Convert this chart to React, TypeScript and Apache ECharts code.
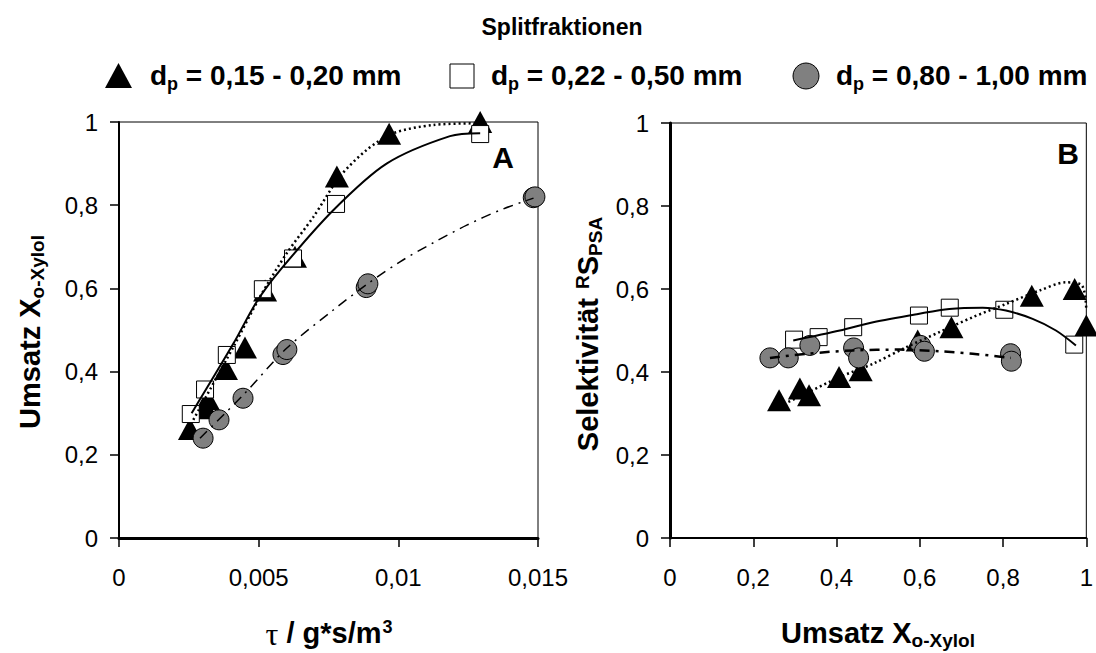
import React, { useEffect, useRef } from "react";
import * as echarts from "echarts";

// Splitfraktion d_p = 0,15 - 0,20 mm
const tauSmall = [0.00254, 0.00312, 0.00318, 0.00383, 0.00451, 0.00523, 0.0063, 0.0078, 0.00967, 0.01293];
const convSmall = [0.262, 0.312, 0.334, 0.406, 0.458, 0.595, 0.676, 0.869, 0.972, 1.0];
const selSmall = [0.332, 0.36, 0.344, 0.388, 0.404, 0.476, 0.508, 0.584, 0.6, 0.512];

// Splitfraktion d_p = 0,22 - 0,50 mm
const tauMed = [0.00257, 0.00308, 0.00386, 0.00515, 0.00623, 0.00777, 0.01293];
const convMed = [0.298, 0.357, 0.44, 0.598, 0.672, 0.803, 0.971];
const selMed = [0.478, 0.484, 0.508, 0.536, 0.555, 0.55, 0.466];

// Splitfraktion d_p = 0,80 - 1,00 mm
const tauCoarse = [0.00301, 0.00358, 0.00444, 0.00587, 0.00601, 0.00885, 0.00891, 0.01483, 0.01489];
const convCoarse = [0.24, 0.284, 0.336, 0.441, 0.453, 0.602, 0.611, 0.818, 0.82];
const selCoarse = [0.434, 0.434, 0.464, 0.458, 0.434, 0.464, 0.45, 0.444, 0.426];

// Trend curves, panel A (Umsatz over tau)
const trendA_smallX = [0.00266, 0.0041, 0.00505, 0.006, 0.00696, 0.00791, 0.00887, 0.00982, 0.01126, 0.01305];
const trendA_smallY = [0.284, 0.46, 0.58, 0.684, 0.772, 0.869, 0.933, 0.973, 0.993, 0.997];
const trendA_medX = [0.0026, 0.0041, 0.00493, 0.00582, 0.00767, 0.00958, 0.01185, 0.01293];
const trendA_medY = [0.3, 0.468, 0.568, 0.648, 0.788, 0.9, 0.966, 0.973];
const trendA_coarseX = [0.0029, 0.00445, 0.006, 0.00767, 0.00892, 0.01006, 0.01126, 0.01245, 0.01364, 0.01484];
const trendA_coarseY = [0.24, 0.344, 0.456, 0.548, 0.612, 0.664, 0.71, 0.752, 0.788, 0.817];

// Trend curves, panel B (Selektivität over Umsatz)
const trendB_smallX = [0.252, 0.326, 0.408, 0.488, 0.568, 0.647, 0.727, 0.807, 0.887, 0.951, 0.99, 1.0];
const trendB_smallY = [0.312, 0.348, 0.388, 0.42, 0.46, 0.496, 0.532, 0.564, 0.596, 0.616, 0.608, 0.548];
const trendB_medX = [0.296, 0.408, 0.488, 0.596, 0.671, 0.751, 0.807, 0.871, 0.927, 0.975];
const trendB_medY = [0.476, 0.5, 0.52, 0.54, 0.552, 0.555, 0.548, 0.528, 0.5, 0.464];
const trendB_coarseX = [0.24, 0.328, 0.44, 0.552, 0.647, 0.727, 0.819];
const trendB_coarseY = [0.434, 0.444, 0.452, 0.454, 0.45, 0.444, 0.434];

const legendLabels = ["0,15 - 0,20 mm", "0,22 - 0,50 mm", "0,80 - 1,00 mm"];

const FONT = "'Liberation Sans', Arial, Helvetica, sans-serif";
const SERIF = "'Liberation Serif', 'Times New Roman', serif";

const zip = (xs: number[], ys: number[]) => xs.map((x, i) => [x, ys[i]]);
const comma = (v: number) => (v === 0 ? "0" : String(+v.toFixed(4)).replace(".", ","));

const richMain = (size: number) => ({
  fontSize: size,
  fontWeight: "bold" as const,
  fontFamily: FONT,
  color: "#000",
  verticalAlign: "top" as const,
});
const richSub = (size: number, drop: number) => ({
  fontSize: size,
  fontWeight: "bold" as const,
  fontFamily: FONT,
  color: "#000",
  verticalAlign: "top" as const,
  padding: [drop, 0, 0, 0],
});
const richSup = (size: number) => ({
  fontSize: size,
  fontWeight: "bold" as const,
  fontFamily: FONT,
  color: "#000",
  verticalAlign: "top" as const,
  padding: [0, 0, 0, 1],
});

function titleText(x: number, y: number, text: string, rich: any, rotation = 0) {
  return {
    type: "text",
    x,
    y,
    rotation,
    style: {
      text,
      rich,
      align: "center",
      verticalAlign: "middle",
      textAlign: "center",
      textVerticalAlign: "middle",
      fill: "#000",
    },
  };
}

function legendText(x: number, label: string) {
  return {
    type: "text",
    x,
    y: 77,
    style: {
      text: `{b|d}{s|p}{b| = ${label}}`,
      rich: { b: richMain(28), s: richSub(18, 14) },
      align: "left",
      verticalAlign: "middle",
      textAlign: "left",
      textVerticalAlign: "middle",
      fill: "#000",
    },
  };
}

export default function App() {
  const ref = useRef<HTMLDivElement>(null);

  useEffect(() => {
    if (!ref.current) return;
    const chart = echarts.init(ref.current, undefined, { renderer: "svg" });

    const axisLabel = {
      color: "#000",
      fontSize: 24,
      fontFamily: FONT,
      formatter: (v: number) => comma(v),
    };
    const tick = { show: true, inside: false, length: 9, lineStyle: { color: "#000", width: 1.5 } };

    const triSym = { symbol: "triangle", symbolSize: [24, 22], itemStyle: { color: "#000", opacity: 1 } };
    const sqSym = {
      symbol: "rect",
      symbolSize: 17,
      itemStyle: { color: "#fff", borderColor: "#000", borderWidth: 1, opacity: 1 },
    };
    const ciSym = {
      symbol: "circle",
      symbolSize: 20,
      itemStyle: { color: "#808080", borderColor: "#000", borderWidth: 1, opacity: 1 },
    };

    const trend = (grid: number, data: number[][], lineStyle: any) => ({
      type: "line",
      xAxisIndex: grid,
      yAxisIndex: grid,
      data,
      smooth: 0.3,
      showSymbol: false,
      symbol: "none",
      lineStyle: { color: "#000", ...lineStyle },
      silent: true,
      z: 3,
    });

    const dotted = { width: 2.5, type: [2, 3] };
    const solid = { width: 2, type: "solid" };
    const dashDotA = { width: 1.5, type: [10, 6, 2, 6] };
    const dashDotB = { width: 2.5, type: [10, 6, 3, 6] };

    chart.setOption({
      animation: false,
      backgroundColor: "#fff",
      grid: [
        { left: 119, top: 122, width: 419, height: 416, show: true, borderColor: "#000", borderWidth: 1 },
        { left: 670, top: 123, width: 417, height: 415, show: true, borderColor: "#000", borderWidth: 1 },
      ],
      xAxis: [
        {
          type: "value",
          gridIndex: 0,
          min: 0,
          max: 0.015,
          interval: 0.005,
          axisLine: { onZero: false, lineStyle: { color: "#000", width: 3 } },
          axisTick: tick,
          axisLabel: { ...axisLabel, margin: 27 },
          splitLine: { show: false },
        },
        {
          type: "value",
          gridIndex: 1,
          min: 0,
          max: 1,
          interval: 0.2,
          axisLine: { onZero: false, lineStyle: { color: "#000", width: 2 } },
          axisTick: tick,
          axisLabel: { ...axisLabel, margin: 27 },
          splitLine: { show: false },
        },
      ],
      yAxis: [
        {
          type: "value",
          gridIndex: 0,
          min: 0,
          max: 1,
          interval: 0.2,
          axisLine: { onZero: false, lineStyle: { color: "#000", width: 2 } },
          axisTick: tick,
          axisLabel: { ...axisLabel, margin: 21 },
          splitLine: { show: false },
        },
        {
          type: "value",
          gridIndex: 1,
          min: 0,
          max: 1,
          interval: 0.2,
          axisLine: { onZero: false, lineStyle: { color: "#000", width: 3 } },
          axisTick: tick,
          axisLabel: { ...axisLabel, margin: 21 },
          splitLine: { show: false },
        },
      ],
      series: [
        { type: "scatter", name: "A-small", xAxisIndex: 0, yAxisIndex: 0, data: zip(tauSmall, convSmall), ...triSym },
        { type: "scatter", name: "A-med", xAxisIndex: 0, yAxisIndex: 0, data: zip(tauMed, convMed), ...sqSym },
        { type: "scatter", name: "A-coarse", xAxisIndex: 0, yAxisIndex: 0, data: zip(tauCoarse, convCoarse), ...ciSym },
        trend(0, zip(trendA_smallX, trendA_smallY), dotted),
        trend(0, zip(trendA_medX, trendA_medY), solid),
        trend(0, zip(trendA_coarseX, trendA_coarseY), dashDotA),

        { type: "scatter", name: "B-small", xAxisIndex: 1, yAxisIndex: 1, data: zip(convSmall, selSmall), ...triSym },
        { type: "scatter", name: "B-med", xAxisIndex: 1, yAxisIndex: 1, data: zip(convMed, selMed), ...sqSym },
        { type: "scatter", name: "B-coarse", xAxisIndex: 1, yAxisIndex: 1, data: zip(convCoarse, selCoarse), ...ciSym },
        trend(1, zip(trendB_smallX, trendB_smallY), dotted),
        trend(1, zip(trendB_medX, trendB_medY), solid),
        trend(1, zip(trendB_coarseX, trendB_coarseY), dashDotB),
      ],
      graphic: [
        titleText(562, 27, "{b|Splitfraktionen}", { b: richMain(23) }),
        // legend
        {
          type: "polygon",
          shape: { points: [[105, 88], [132, 88], [118.5, 63]] },
          style: { fill: "#000" },
        },
        legendText(150, legendLabels[0]),
        {
          type: "rect",
          shape: { x: 450, y: 64, width: 24, height: 24 },
          style: { fill: "#fff", stroke: "#000", lineWidth: 1 },
        },
        legendText(491, legendLabels[1]),
        {
          type: "circle",
          shape: { cx: 806, cy: 76, r: 13 },
          style: { fill: "#808080", stroke: "#000", lineWidth: 1 },
        },
        legendText(836, legendLabels[2]),
        // panel letters
        titleText(503, 157, "{b|A}", { b: richMain(30) }),
        titleText(1068, 153, "{b|B}", { b: richMain(30) }),
        // y-axis titles
        titleText(31, 332, "{b|Umsatz X}{s|o-Xylol}", { b: richMain(29), s: richSub(19, 13) }, Math.PI / 2),
        titleText(589, 334, "{b|Selektivität }{u|R}{b|S}{s|PSA}", { b: richMain(29), s: richSub(19, 13), u: richSup(19) }, Math.PI / 2),
        // x-axis titles
        titleText(329, 634, "{t|τ}{b| / g*s/m}{u|3}", {
          t: { fontSize: 32, fontFamily: SERIF, color: "#000", verticalAlign: "top", padding: [0, 0, 0, 0] },
          b: richMain(29),
          u: richSup(18),
        }),
        titleText(878, 634, "{b|Umsatz X}{s|o-Xylol}", { b: richMain(29), s: richSub(19, 13) }),
      ],
    });

    return () => chart.dispose();
  }, []);

  return (
    <div
      ref={ref}
      style={{ position: "fixed", left: 0, top: 0, width: 1096, height: 653, background: "#fff" }}
    />
  );
}
